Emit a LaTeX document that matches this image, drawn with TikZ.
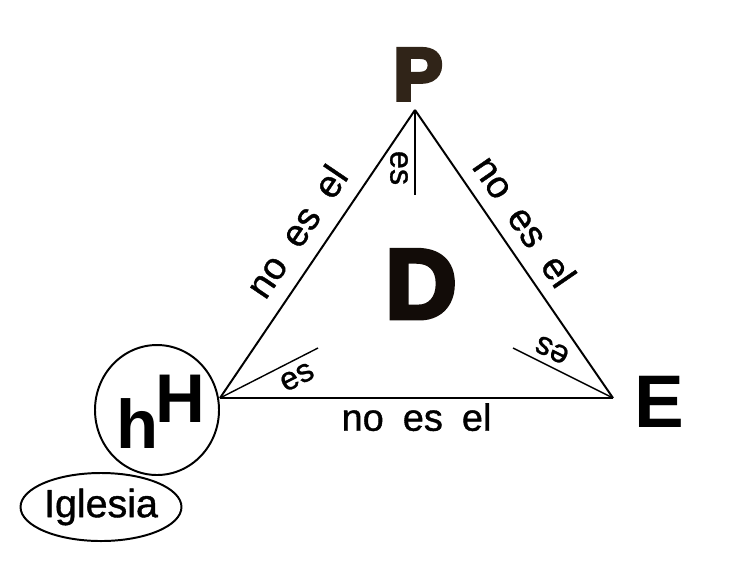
\documentclass[tikz,border=0pt]{standalone}
\usepackage{fontspec}
\setmainfont{Liberation Sans}
\newfontfamily\heavyfont[FakeBold=5]{Liberation Sans Bold}
\newfontfamily\lblfont[FakeBold=1]{Liberation Sans}
\usetikzlibrary{shapes.geometric}

\definecolor{pbrown}{RGB}{48,36,24}
\definecolor{dblack}{RGB}{18,12,8}

\newcommand{\wsp}{\hspace{0.5em}}

\tikzset{
  lbl/.style={font=\lblfont\fontsize{27}{30}\selectfont,inner sep=3pt},
  small/.style={font=\lblfont\fontsize{23}{25}\selectfont,inner sep=0pt},
  bigletter/.style={font=\fontsize{#1}{#1}\selectfont\bfseries,inner sep=0pt,anchor=base},
  heavyletter/.style={font=\heavyfont\fontsize{#1}{#1}\selectfont,inner sep=0pt,anchor=base},
}

\begin{document}
\begin{tikzpicture}[x=0.025cm,y=-0.025cm,line width=1.4pt]
  \useasboundingbox (0,0) rectangle (754,580);
  \coordinate (H) at (220,398);
  \coordinate (P) at (415,110);
  \coordinate (E) at (613,398);
  \coordinate (p1) at (415,195);
  \coordinate (h1) at (318,348);
  \coordinate (e1) at (513,348);

  \draw (H) -- (P) node[lbl,pos=0.52,sloped,above=8pt] {no\wsp es\wsp el};
  \draw (P) -- (E) node[lbl,pos=0.44,sloped,above=6pt] {no\wsp es\wsp el};
  \draw (H) -- (E) node[lbl,pos=0.5,below] {no\wsp es\wsp el};

  \draw[line width=1pt] (P) -- (p1);
  \draw[line width=1pt] (H) -- (h1);
  \draw[line width=1pt] (E) -- (e1);
  \node[small,rotate=-90] (esP) at (399,168) {es};
  \node[small,rotate=27] (esH) at (297,377) {es};
  \node[small,rotate=153.4] (esE) at (552,350) {es};

  \node[heavyletter=53,text=pbrown] (lP) at (418,100) {P};
  \node[heavyletter=70,text=dblack] (lD) at (421,318) {D};
  \node[bigletter=53] (lE) at (659,427) {E};
  \node[bigletter=49] (lH) at (180,422) {H};
  \node[bigletter=49] (lh) at (138,448) {h};

  \draw (157,410) ellipse (62 and 65);
  \node[draw,ellipse,inner sep=0pt,minimum width=3.85cm,minimum height=1.7cm,
        font=\lblfont\fontsize{28}{30}\selectfont] (igl) at (101,507) {Iglesia};
\end{tikzpicture}
\end{document}
